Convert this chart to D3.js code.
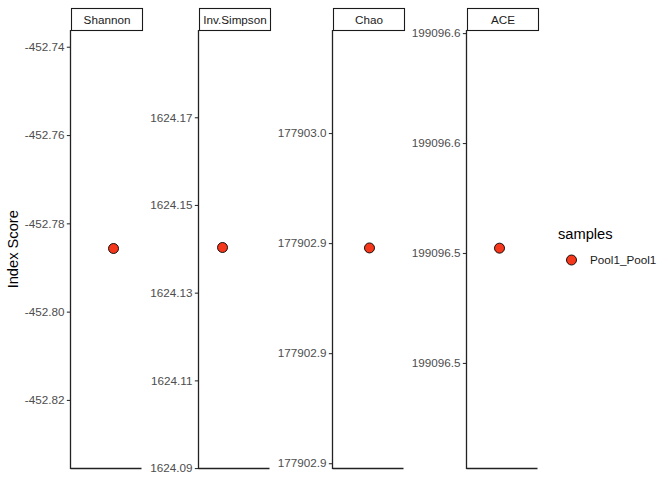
<!DOCTYPE html>
<html>
<head>
<meta charset="utf-8">
<script src="https://cdn.jsdelivr.net/npm/d3@7"></script>
<style>
  html, body { margin: 0; padding: 0; background: #fff; }
  text { font-family: "Liberation Sans", Arial, Helvetica, sans-serif; }
</style>
</head>
<body>
<svg id="chart" width="672" height="480"></svg>
<script>
// ---- data ----
const indices = ["Shannon", "Inv.Simpson", "Chao", "ACE"];
const samples = ["Pool1_Pool1"];
const indexValues = [-452.7857, 1624.1403, 177902.9489, 199096.5261];
const jitterX = [1.127, 0.806, 1.025, 0.958];
const yMin = [-452.83553, 1624.0899, 177902.8988, 199096.4760];
const yMax = [-452.73621, 1624.1899, 177902.9984, 199096.5757];
const tickValues = [
  [-452.82, -452.80, -452.78, -452.76, -452.74],
  [1624.09, 1624.11, 1624.13, 1624.15, 1624.17],
  [177902.900, 177902.925, 177902.950, 177902.975],
  [199096.500, 199096.525, 199096.550, 199096.575]
];
const tickLabels = [
  ["-452.82", "-452.80", "-452.78", "-452.76", "-452.74"],
  ["1624.09", "1624.11", "1624.13", "1624.15", "1624.17"],
  ["177902.9", "177902.9", "177902.9", "177903.0"],
  ["199096.5", "199096.5", "199096.6", "199096.6"]
];
const pointFill = "#F5381C";

// ---- layout ----
const svg = d3.select("#chart");
const panelTop = 30, panelBottom = 468.5;
const panelLefts = [70.5, 198.5, 332.5, 466.5];
const panelW = 71;
const stripH = 22;

indices.forEach((name, i) => {
  const x0 = panelLefts[i];
  const g = svg.append("g").attr("transform", `translate(${x0},0)`);
  const x = d3.scaleLinear().domain([0.4, 1.6]).range([0, panelW]);
  const y = d3.scaleLinear().domain([yMin[i], yMax[i]]).range([panelBottom, panelTop]);

  // strip
  g.append("rect")
    .attr("x", 1).attr("y", panelTop - stripH + 0.5)
    .attr("width", panelW).attr("height", stripH)
    .attr("fill", "#fff").attr("stroke", "#1a1a1a").attr("stroke-width", 1.1);
  g.append("text")
    .attr("x", panelW / 2 + 1).attr("y", panelTop - stripH / 2 + 0.5)
    .attr("dy", "0.35em").attr("text-anchor", "middle")
    .attr("font-size", "11.7px").attr("fill", "#1a1a1a")
    .text(name);

  // y axis
  const yAxis = d3.axisLeft(y)
    .tickValues(tickValues[i])
    .tickFormat((d, k) => tickLabels[i][k])
    .tickSize(3.67).tickPadding(2.4);
  const ag = g.append("g").call(yAxis);
  ag.select(".domain").remove();
  ag.selectAll(".tick line").attr("stroke", "#333").attr("stroke-width", 1.1);
  ag.selectAll(".tick text").attr("fill", "#4d4d4d").attr("font-size", "11.7px")
    .attr("font-family", "Liberation Sans, Arial, sans-serif");

  // axis lines (theme_classic)
  g.append("line")
    .attr("x1", 0).attr("x2", 0)
    .attr("y1", panelTop).attr("y2", panelBottom + 0.6)
    .attr("stroke", "#222").attr("stroke-width", 1.3);
  g.append("line")
    .attr("x1", 0).attr("x2", panelW)
    .attr("y1", panelBottom).attr("y2", panelBottom)
    .attr("stroke", "#222").attr("stroke-width", 1.3);

  // point
  g.append("circle")
    .attr("cx", x(jitterX[i]))
    .attr("cy", y(indexValues[i]))
    .attr("r", 5)
    .attr("fill", pointFill)
    .attr("stroke", "#000").attr("stroke-width", 0.9);
});

// y title
svg.append("text")
  .attr("transform", `translate(18,${(panelTop + panelBottom) / 2}) rotate(-90)`)
  .attr("text-anchor", "middle")
  .attr("font-size", "14.67px").attr("fill", "#000")
  .text("Index Score");

// legend
const lg = svg.append("g");
lg.append("text").attr("x", 558).attr("y", 239)
  .attr("font-size", "14.67px").attr("fill", "#000").text("samples");
samples.forEach((s, k) => {
  lg.append("circle").attr("cx", 571.5).attr("cy", 260 + k * 17).attr("r", 5)
    .attr("fill", pointFill).attr("stroke", "#000").attr("stroke-width", 0.9);
  lg.append("text").attr("x", 590).attr("y", 260 + k * 17).attr("dy", "0.35em")
    .attr("font-size", "11.7px").attr("fill", "#1a1a1a").text(s);
});
</script>
</body>
</html>
